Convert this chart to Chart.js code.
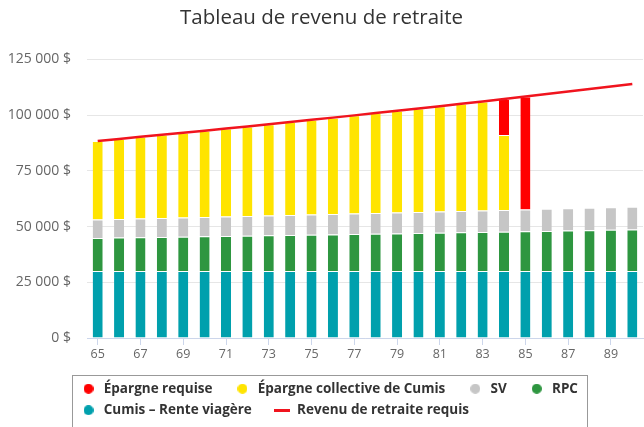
<!DOCTYPE html>
<html>
<head>
<meta charset="utf-8">
<script src="https://cdn.jsdelivr.net/npm/chart.js@4"></script>
<style>
  body { margin: 0; background: #fff; }
  #wrap { width: 644px; height: 427px; }
</style>
</head>
<body>
<div id="wrap"><canvas id="retraite" width="644" height="427"></canvas></div>
<script>
const ages = ['65', '66', '67', '68', '69', '70', '71', '72', '73', '74', '75', '76', '77',
  '78', '79', '80', '81', '82', '83', '84', '85', '86', '87', '88', '89', '90'];

const renteViagere = [30000, 30000, 30000, 30000, 30000, 30000, 30000, 30000, 30000, 30000, 30000, 30000, 30000,
  30000, 30000, 30000, 30000, 30000, 30000, 30000, 30000, 30000, 30000, 30000, 30000, 30000];
const rpc = [14900, 15040, 15180, 15320, 15460, 15600, 15740, 15880, 16030, 16170, 16320, 16470, 16620,
  16770, 16920, 17080, 17230, 17390, 17550, 17710, 17870, 18030, 18200, 18360, 18530, 18700];
const sv = [8250, 8330, 8410, 8490, 8560, 8640, 8720, 8800, 8880, 8950, 9030, 9110, 9190,
  9270, 9350, 9420, 9500, 9580, 9660, 9740, 9810, 9890, 9970, 10050, 10130, 10200];
const epargneCollective = [35250, 35930, 36620, 37320, 38040, 38760, 39490, 40230, 40970, 41740, 42490, 43260, 44040,
  44830, 45630, 46440, 47260, 48080, 48910, 33550, null, null, null, null, null, null];
const epargneRequise = [null, null, null, null, null, null, null, null, null, null, null, null, null,
  null, null, null, null, null, null, 16200, 50620, null, null, null, null, null];
const revenuRequis = [88400, 89300, 90210, 91130, 92060, 93000, 93950, 94910, 95880, 96860, 97840, 98840, 99850,
  100870, 101900, 102940, 103990, 105050, 106120, 107200, 108300, 109400, 110520, 111650, 112790, 113940];

const yTicks = [0, 25000, 50000, 75000, 100000, 125000];

const COLORS = {
  red: '#ff0000',
  yellow: '#ffe400',
  grey: '#c6c6c6',
  green: '#2e9640',
  teal: '#00a0ad',
  line: '#f0141e'
};

// small images used as legend markers
function dot(color) {
  const c = document.createElement('canvas');
  c.width = 10; c.height = 10;
  const g = c.getContext('2d');
  g.fillStyle = color;
  g.beginPath();
  g.arc(5, 5, 5, 0, Math.PI * 2);
  g.fill();
  return c;
}
function dash(color) {
  const c = document.createElement('canvas');
  c.width = 16; c.height = 3;
  const g = c.getContext('2d');
  g.fillStyle = color;
  g.fillRect(0, 0, 16, 3);
  return c;
}

function barSet(label, values, color) {
  return {
    label: label,
    data: values,
    backgroundColor: color,
    borderColor: '#ffffff',
    borderWidth: { top: 1, left: 0, right: 0, bottom: 0 },
    borderSkipped: false,
    pointStyle: dot(color),
    barPercentage: 0.47,
    categoryPercentage: 1.0
  };
}

// legend shows the stack from top to bottom, then the line
const legendOrder = [4, 3, 2, 1, 0, 5];

// moves the legend under the plot and frames it
const legendBox = {
  id: 'legendBox',
  afterLayout(chart) {
    const lg = chart.legend;
    lg.left = chart.chartArea.left - 15;
    lg.frameWidth = Math.max(...lg.lineWidths) - 4;
  },
  afterDraw(chart) {
    const lg = chart.legend;
    const ctx = chart.ctx;
    ctx.save();
    ctx.strokeStyle = '#999999';
    ctx.lineWidth = 1;
    ctx.strokeRect(Math.round(lg.left) + 0.5, Math.round(lg.top) + 1.5, Math.round(lg.frameWidth), lg.height);
    ctx.restore();
  }
};

const data = {
  labels: ages,
  datasets: [
    barSet('Cumis – Rente viagère', renteViagere, COLORS.teal),
    barSet('RPC', rpc, COLORS.green),
    barSet('SV', sv, COLORS.grey),
    barSet('Épargne collective de Cumis', epargneCollective, COLORS.yellow),
    barSet('Épargne requise', epargneRequise, COLORS.red),
    {
      type: 'line',
      label: 'Revenu de retraite requis',
      data: revenuRequis,
      borderColor: COLORS.line,
      backgroundColor: COLORS.line,
      borderWidth: 2.5,
      pointRadius: 0,
      pointStyle: dash(COLORS.line),
      tension: 0,
      order: -1
    }
  ]
};

const config = {
  type: 'bar',
  data: data,
  options: {
    responsive: false,
    animation: false,
    layout: { padding: { left: 0, right: 1, top: 0, bottom: 0 } },
    plugins: {
      title: {
        display: true,
        text: 'Tableau de revenu de retraite',
        color: '#333333',
        font: { family: 'Open Sans', size: 20.5, weight: 'normal' },
        padding: { top: 6, bottom: 28.7 }
      },
      legend: {
        position: 'bottom',
        align: 'start',
        labels: {
          usePointStyle: true,
          pointStyleWidth: 17,
          boxHeight: 10,
          padding: 8,
          color: '#333333',
          font: { family: 'Open Sans', size: 13.5, weight: 'bold' },
          sort: (a, b) => legendOrder.indexOf(a.datasetIndex) - legendOrder.indexOf(b.datasetIndex),
          generateLabels(chart) {
            const items = Chart.defaults.plugins.legend.labels.generateLabels(chart);
            items.forEach(it => { it.text = it.text + '\u2003'; });
            return items;
          }
        }
      },
      tooltip: { enabled: false }
    },
    scales: {
      x: {
        stacked: true,
        afterFit(scale) { scale.height = 36; },
        grid: {
          offset: false,
          drawOnChartArea: false,
          drawTicks: true,
          tickLength: 7,
          color: '#ccd6eb'
        },
        border: { display: true, color: '#ccd6eb' },
        ticks: {
          color: '#666666',
          font: { family: 'Open Sans', size: 12.5 },
          padding: 2,
          maxRotation: 0,
          autoSkip: true,
          maxTicksLimit: 13
        }
      },
      y: {
        stacked: true,
        min: 0,
        max: 125000,
        afterFit(scale) { scale.width = 87; },
        afterBuildTicks(scale) { scale.ticks = yTicks.map(v => ({ value: v })); },
        grid: { color: '#e6e6e6', drawTicks: false },
        border: { display: false },
        ticks: {
          color: '#666666',
          font: { family: 'Open Sans', size: 14 },
          padding: 16,
          callback: v => String(v).replace(/\B(?=(\d{3})+(?!\d))/g, ' ') + ' $'
        }
      }
    }
  },
  plugins: [legendBox]
};

const retraiteChart = new Chart(document.getElementById('retraite'), config);
</script>
</body>
</html>
